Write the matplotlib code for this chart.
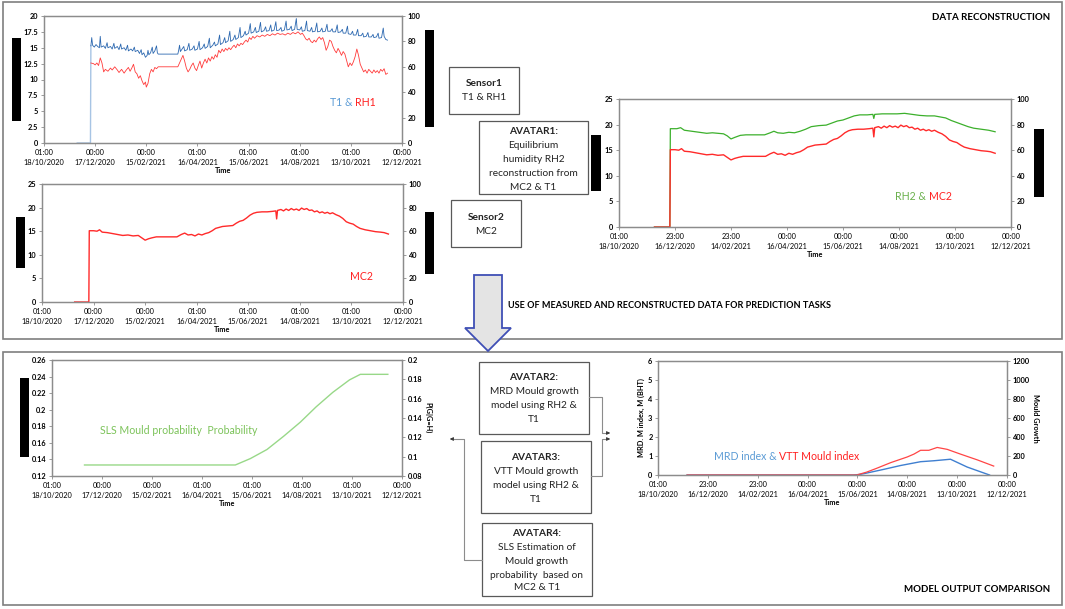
import matplotlib
matplotlib.use("Agg")
import matplotlib.pyplot as plt
from matplotlib.patches import Rectangle, Polygon

plt.rcParams['font.family'] = ['Lato', 'DejaVu Sans']

# ---- data (time axis in days since 18/10/2020 01:00) ----
day_ticks = [0, 60, 120, 180, 240, 300, 360, 420]
xlabels_a = ["01:00\n18/10/2020", "00:00\n17/12/2020", "00:00\n15/02/2021", "01:00\n16/04/2021",
             "01:00\n15/06/2021", "01:00\n14/08/2021", "01:00\n13/10/2021", "00:00\n12/12/2021"]
xlabels_b = ["01:00\n18/10/2020", "23:00\n16/12/2020", "23:00\n14/02/2021", "00:00\n16/04/2021",
             "00:00\n15/06/2021", "00:00\n14/08/2021", "00:00\n13/10/2021", "00:00\n12/12/2021"]

# Sensor1: T1 (blue) and RH1 (red), left-axis units
t1_lead_days = [39, 54.5, 55]
t1_lead_vals = [0, 0, 15.3]
t1_days = [55, 56, 57, 59, 61, 63, 65, 66, 67, 70, 72, 74, 75, 78, 80, 82, 83, 86, 88, 90, 91, 94, 96, 98, 99,
           102, 104, 106, 107, 110, 112, 114, 115, 117, 119, 121, 122, 123, 125, 127, 128, 130, 132, 133, 134,
           157, 158, 159, 160, 162, 164, 165, 168, 170, 171, 174, 176, 177, 180, 182, 183, 186, 188, 189, 192,
           194, 195, 198, 200, 201, 204, 206, 207, 210, 212, 213, 216, 218, 219, 222, 224, 225, 228, 230, 231,
           234, 236, 237, 240, 242, 243, 246, 248, 249, 252, 254, 255, 258, 260, 261, 264, 266, 267, 270, 272,
           273, 276, 278, 279, 282, 284, 285, 288, 290, 291, 294, 296, 297, 300, 302, 303, 306, 308, 309, 312,
           314, 315, 318, 320, 321, 324, 326, 327, 330, 332, 333, 336, 338, 339, 342, 344, 345, 348, 350, 351,
           354, 356, 357, 360, 362, 363, 366, 368, 369, 372, 374, 375, 378, 380, 381, 384, 386, 387, 390, 392,
           393, 396, 398, 399, 401, 403]
t1_vals = [15.3, 16.6, 15.4, 15.1, 15.5, 15.2, 15.0, 16.8, 15.1, 15.3, 14.9, 15.8, 15.0, 15.2, 14.8, 15.7, 14.9,
           15.2, 14.7, 15.6, 14.8, 15.0, 14.6, 15.4, 14.5, 14.8, 14.5, 15.1, 14.4, 14.6, 14.1, 14.7, 13.9, 14.2,
           13.5, 13.8, 14.6, 13.9, 14.2, 15.1, 14.1, 14.5, 15.3, 14.2, 14.0,
           14.0, 14.6, 15.4, 14.4, 14.8, 15.2, 14.5, 14.7, 15.7, 14.6, 14.8, 15.3, 14.6, 14.8, 16.0, 14.7, 15.0,
           15.6, 14.9, 15.2, 16.5, 15.0, 15.4, 15.9, 15.3, 15.6, 17.0, 15.5, 15.8, 16.6, 15.8, 16.1, 17.6, 16.0,
           16.3, 17.0, 16.3, 16.6, 18.2, 16.6, 16.9, 17.6, 17.0, 17.3, 18.8, 17.3, 17.5, 18.2, 17.4, 17.6, 19.0,
           17.5, 17.7, 18.3, 17.6, 17.7, 18.6, 17.6, 17.8, 19.1, 17.7, 17.8, 18.2, 17.6, 17.8, 19.2, 17.8, 17.9,
           18.4, 17.7, 17.9, 19.6, 17.9, 17.8, 18.3, 17.6, 17.7, 19.2, 17.7, 17.6, 18.2, 17.5, 17.6, 18.9, 17.5,
           17.6, 18.1, 17.5, 17.6, 18.7, 17.6, 17.6, 18.0, 17.5, 17.5, 18.6, 17.4, 17.5, 17.9, 17.3, 17.3, 18.4,
           17.2, 17.1, 17.6, 17.0, 17.0, 17.9, 16.9, 16.9, 17.3, 16.7, 16.8, 17.4, 16.7, 16.7, 17.1, 16.6, 16.7,
           17.3, 16.5, 16.6, 18.1, 16.8, 16.3, 16.2]
rh1_days = [55, 58, 60, 62, 64, 66, 68, 70, 72, 75, 78, 80, 83, 86, 88, 91, 94, 96, 99, 101, 103, 105, 107, 109,
            111, 113, 115, 117, 119, 120, 122, 124, 126, 128, 130, 132, 134, 157, 159, 161, 163, 165, 167, 169,
            171, 173, 175, 177, 179, 181, 183, 185, 187, 189, 191, 193, 195, 197, 199, 201, 203, 205, 207, 209,
            211, 213, 215, 217, 219, 221, 223, 225, 227, 229, 231, 233, 235, 237, 239, 241, 243, 245, 247, 250,
            253, 256, 259, 262, 265, 268, 271, 274, 277, 280, 283, 286, 289, 292, 295, 298, 301, 303, 305, 307,
            309, 311, 313, 315, 317, 319, 321, 323, 325, 327, 329, 331, 333, 335, 337, 339, 341, 343, 345, 347,
            349, 351, 353, 355, 357, 359, 361, 363, 365, 367, 369, 371, 373, 375, 377, 379, 381, 383, 385, 387,
            389, 391, 393, 395, 397, 399, 401, 403]
rh1_vals = [12.6, 12.5, 12.3, 12.6, 12.2, 13.4, 12.6, 11.2, 11.6, 11.3, 11.8, 11.5, 12.0, 11.5, 11.1, 11.6, 11.0,
            11.4, 11.9, 11.3, 11.8, 12.4, 11.2, 10.9, 10.2, 10.6, 9.8, 9.2, 9.6, 8.8, 9.4, 10.9, 11.6, 11.2, 11.9,
            11.7, 12.0, 12.0, 12.6, 13.2, 13.8, 12.9, 11.8, 11.2, 11.6, 12.2, 12.6, 11.8, 11.4, 12.2, 12.9, 11.8,
            12.6, 13.2, 12.6, 13.4, 12.9, 13.6, 13.2, 13.9, 13.5, 14.6, 14.2, 14.8, 14.4, 14.9, 14.6, 15.0, 14.7,
            15.1, 15.4, 15.0, 15.6, 15.3, 15.7, 15.5, 15.9, 16.2, 15.9, 16.6, 16.3, 16.8, 16.5, 16.9, 16.7, 17.0,
            16.8, 17.1, 16.9, 17.2, 17.0, 17.3, 17.1, 17.2, 17.0, 17.3, 17.1, 17.4, 17.2, 17.5, 17.1, 17.3, 16.9,
            16.4, 16.2, 16.5, 16.0, 15.8, 16.2, 15.9, 16.4, 16.7, 16.3, 16.6, 15.8, 14.6, 15.2, 16.2, 16.0, 15.2,
            14.6, 14.2, 14.9, 14.4, 13.8, 14.4, 14.0, 13.0, 12.0, 12.6, 12.2, 12.8, 13.6, 14.8, 13.8, 12.4, 11.8,
            11.2, 11.5, 11.0, 11.6, 11.3, 11.0, 11.5, 11.1, 11.4, 11.0, 11.6, 11.3, 11.7, 10.8, 11.0]

# Sensor2: MC2
mc2_days = [38, 54.5, 55, 60, 64, 67, 70, 76, 82, 88, 94, 100, 106, 112, 116, 120, 124, 128, 133, 140, 150, 157,
            162, 166, 170, 174, 178, 182, 186, 190, 194, 198, 202, 206, 210, 216, 222, 226, 230, 234, 238, 242,
            246, 250, 256, 262, 268, 272, 273, 274, 278, 281, 284, 287, 290, 293, 296, 299, 302, 305, 308, 311,
            314, 317, 320, 323, 326, 329, 332, 335, 338, 342, 346, 350, 354, 358, 362, 366, 370, 376, 382, 388,
            394, 398, 403]
mc2_vals = [0, 0, 15.1, 15.1, 15.0, 15.3, 14.8, 14.7, 14.5, 14.3, 14.1, 14.2, 14.0, 14.1, 13.6, 13.1, 13.4, 13.6,
            13.8, 13.8, 13.8, 13.8, 14.3, 14.6, 14.2, 14.3, 14.0, 14.4, 14.2, 14.5, 14.7, 15.1, 15.6, 15.8, 16.0,
            16.1, 16.2, 16.7, 17.1, 17.3, 17.8, 18.4, 18.8, 19.0, 19.1, 19.1, 19.2, 19.3, 17.6, 19.4, 19.6, 19.3,
            19.7, 19.4, 19.8, 19.5, 19.7, 19.4, 19.9, 19.6, 19.8, 19.4, 19.5, 19.1, 19.3, 18.9, 19.1, 18.8, 19.0,
            18.7, 18.9, 18.5, 18.2, 17.7, 17.0, 16.7, 16.5, 16.0, 15.6, 15.3, 15.1, 14.9, 14.8, 14.7, 14.4]

# AVATAR1: reconstructed RH2
rh2_days = [38, 54.5, 55, 62, 66, 70, 78, 86, 94, 100, 106, 112, 116, 120, 124, 130, 136, 146, 156, 162, 166, 170,
            176, 182, 188, 194, 200, 206, 214, 222, 228, 234, 240, 246, 252, 258, 266, 272, 273, 274, 282, 290,
            298, 306, 314, 322, 330, 338, 344, 350, 356, 362, 368, 374, 380, 388, 396, 403]
rh2_vals = [0, 0, 19.2, 19.2, 19.4, 18.9, 18.7, 18.5, 18.3, 18.4, 18.3, 18.2, 17.8, 17.2, 17.5, 17.9, 18.0, 18.0,
            18.0, 18.4, 18.7, 18.4, 18.3, 18.5, 18.4, 18.7, 19.1, 19.6, 19.8, 19.9, 20.3, 20.7, 20.9, 21.3, 21.7,
            21.9, 21.9, 22.0, 21.2, 22.0, 22.1, 22.1, 22.1, 22.2, 22.0, 21.8, 21.7, 21.7, 21.5, 21.3, 20.8, 20.4,
            20.0, 19.6, 19.3, 19.1, 18.9, 18.6]

# AVATAR4: SLS probability
sls_days = [39, 220, 238, 258, 278, 298, 317, 337, 357, 370, 403]
sls_vals = [0.1333, 0.1333, 0.141, 0.152, 0.168, 0.185, 0.2035, 0.221, 0.236, 0.2427, 0.2427]

# AVATAR2 / AVATAR3: mould indices
vtt_days = [35, 239, 251, 263, 280, 300, 308, 316, 326, 336, 348, 364, 384, 404]
vtt_vals = [0, 0, 0.15, 0.35, 0.65, 0.95, 1.1, 1.3, 1.3, 1.45, 1.35, 1.1, 0.8, 0.47]
mrd_days = [35, 235, 243, 251, 272, 292, 316, 332, 352, 372, 388, 399]
mrd_vals = [0, 0, 0.03, 0.1, 0.3, 0.5, 0.7, 0.75, 0.83, 0.42, 0.17, 0.0]

# tick labels
yl_20 = ["0", "2.5", "5", "7.5", "10", "12.5", "15", "17.5", "20"]
yl_25 = ["0", "5", "10", "15", "20", "25"]
yl_100 = ["0", "20", "40", "60", "80", "100"]
yl_sls = ["0.12", "0.14", "0.16", "0.18", "0.2", "0.22", "0.24", "0.26"]
yl_p = ["0.08", "0.1", "0.12", "0.14", "0.16", "0.18", "0.2"]
yl_6 = ["0", "1", "2", "3", "4", "5", "6"]
yl_1200 = ["0", "200", "400", "600", "800", "1000", "1200"]

# ---- figure ----
W, H = 1065, 609
fig = plt.figure(figsize=(W / 100, H / 100), dpi=100)

ov = fig.add_axes([0, 0, 1, 1])
ov.set_xlim(0, W)
ov.set_ylim(H, 0)
ov.axis('off')

GRID = '#8c8c8c'
TK = 5.3


def px_axes(x0, y0, x1, y1):
    a = fig.add_axes([x0 / W, 1 - y1 / H, (x1 - x0) / W, (y1 - y0) / H])
    a.patch.set_visible(False)
    return a


def setup(ax, ylim, yticks, ylabels, xlabels, rlim, rticks, rlabels):
    ax.set_xlim(0, 420)
    ax.set_xticks(day_ticks)
    ax.set_xticklabels(xlabels, fontsize=TK, linespacing=1.5)
    ax.set_ylim(*ylim)
    ax.set_yticks(yticks)
    ax.set_yticklabels(ylabels, fontsize=TK, fontweight='bold')
    ax.set_xlabel('Time', fontsize=TK, fontweight='bold', labelpad=1)
    axr = ax.twinx()
    axr.patch.set_visible(False)
    axr.set_ylim(*rlim)
    axr.set_yticks(rticks)
    axr.set_yticklabels(rlabels, fontsize=TK, fontweight='bold')
    for a in (ax, axr):
        for s in a.spines.values():
            s.set_color(GRID)
            s.set_linewidth(0.9)
        a.tick_params(length=2.5, width=0.6, color=GRID, pad=1.5)
    return axr


# panels and headings
ov.add_patch(Rectangle((3, 2), 1059, 337, fill=False, ec='#7f7f7f', lw=1.2))
ov.add_patch(Rectangle((3, 352), 1059, 253, fill=False, ec='#7f7f7f', lw=1.2))
ov.text(1050, 17, 'DATA RECONSTRUCTION', ha='right', va='center', fontsize=7.0, fontweight='bold')
ov.text(1050, 590, 'MODEL OUTPUT COMPARISON', ha='right', va='center', fontsize=7.0, fontweight='bold')
ov.text(508, 305, 'USE OF MEASURED AND RECONSTRUCTED DATA FOR PREDICTION TASKS', ha='left', va='center',
        fontsize=6.6, fontweight='bold')
ov.add_patch(Polygon([(474, 275), (502, 275), (502, 328), (511, 328), (488, 351), (465, 328), (474, 328)],
                     closed=True, fc='#e4e4e4', ec='#3f4fb5', lw=1.3, zorder=5))

# redaction bars
for x0, y0, x1, y1 in [(12, 38, 21, 121), (425, 30, 434, 127), (16, 217, 25, 268), (425, 212, 434, 274),
                       (591, 135, 601, 191), (1034, 129, 1044, 197), (20, 378, 29, 457)]:
    ov.add_patch(Rectangle((x0, y0), x1 - x0, y1 - y0, fc='black', ec='none'))


# text boxes
def text_box(x0, y0, x1, y1, lines, ys):
    ov.add_patch(Rectangle((x0, y0), x1 - x0, y1 - y0, fc='white', ec='#595959', lw=0.9))
    for i, (s, yy) in enumerate(zip(lines, ys)):
        ov.text((x0 + x1) / 2, yy, s, ha='center', va='center', fontsize=7.3,
                fontweight='bold' if (i == 0) else 'normal', color='#222222')


text_box(449, 67, 519, 114, ['Sensor1', 'T1 & RH1'], [84, 98])
text_box(479, 121, 588, 194, ['AVATAR1:', 'Equilibrium', 'humidity RH2', 'reconstruction from', 'MC2 & T1'],
         [131, 145, 159, 173, 187])
text_box(451, 200, 521, 247, ['Sensor2', 'MC2'], [217, 232])
text_box(479, 362, 589, 434, ['AVATAR2:', 'MRD Mould growth', 'model using RH2 &', 'T1'], [377, 391, 405, 419])
text_box(481, 441, 591, 513, ['AVATAR3:', 'VTT Mould growth', 'model using RH2 &', 'T1'], [457, 471, 485, 499])
text_box(482, 523, 592, 596, ['AVATAR4:', 'SLS Estimation of', 'Mould growth', 'probability  based on',
                              'MC2 & T1'], [533, 547, 561, 575, 588])

# connectors
CON = '#8c8c8c'
ov.plot([589, 602, 602, 606], [397, 397, 433, 433], color=CON, lw=0.8)
ov.plot([591, 602, 602, 606], [476, 476, 439, 439], color=CON, lw=0.8)
ov.plot([482, 464, 464, 454], [560, 560, 439, 439], color=CON, lw=0.8)
for xa, xb, yy in [(605, 613, 433), (605, 613, 439), (455, 447, 439)]:
    ov.annotate('', xy=(xb, yy), xytext=(xa, yy),
                arrowprops=dict(arrowstyle='-|>', color='#333333', lw=0.6, mutation_scale=5))

# chart 1: T1 & RH1
ax1 = px_axes(44, 16, 402, 143)
setup(ax1, (0, 20), [0, 2.5, 5, 7.5, 10, 12.5, 15, 17.5, 20], yl_20, xlabels_a, (0, 100),
      [0, 20, 40, 60, 80, 100], yl_100)
ax1.plot(t1_lead_days, t1_lead_vals, color='#a7c4e4', lw=1.0)
ax1.plot(rh1_days, rh1_vals, color='#ff3b3b', lw=0.6)
ax1.plot(t1_days, t1_vals, color='#2c68b0', lw=0.6)

# chart 2: MC2
ax2 = px_axes(42, 184, 403, 302)
setup(ax2, (0, 25), [0, 5, 10, 15, 20, 25], yl_25, xlabels_a, (0, 100), [0, 20, 40, 60, 80, 100], yl_100)
ax2.plot(mc2_days, mc2_vals, color='#ff2a2a', lw=1.0)

# chart 3: RH2 & MC2
ax3 = px_axes(619, 99, 1011, 227)
setup(ax3, (0, 25), [0, 5, 10, 15, 20, 25], yl_25, xlabels_b, (0, 100), [0, 20, 40, 60, 80, 100], yl_100)
ax3.plot(rh2_days, rh2_vals, color='#3cb02c', lw=0.9)
ax3.plot(mc2_days, mc2_vals, color='#ff2a2a', lw=1.0)

# chart 4: SLS probability
ax4 = px_axes(52, 360, 402, 476)
ax4r = setup(ax4, (0.12, 0.26), [0.12, 0.14, 0.16, 0.18, 0.20, 0.22, 0.24, 0.26], yl_sls, xlabels_a,
             (0.08, 0.2), [0.08, 0.10, 0.12, 0.14, 0.16, 0.18, 0.20], yl_p)
ax4r.set_ylabel('P(G|G=H)', fontsize=TK, fontweight='bold', rotation=270, labelpad=7)
ax4.plot(sls_days, sls_vals, color='#98d888', lw=1.0)

# chart 5: MRD & VTT
ax5 = px_axes(658, 361, 1007, 475)
ax5r = setup(ax5, (0, 6), [0, 1, 2, 3, 4, 5, 6], yl_6, xlabels_b, (0, 1200),
             [0, 200, 400, 600, 800, 1000, 1200], yl_1200)
ax5.set_ylabel('MRD. M index, M (BHT)', fontsize=TK, fontweight='bold', labelpad=2)
ax5r.set_ylabel('Mould Growth', fontsize=TK, fontweight='bold', rotation=270, labelpad=7)
ax5.plot(mrd_days, mrd_vals, color='#3f7fd0', lw=1.0)
ax5.plot(vtt_days, vtt_vals, color='#ff4545', lw=0.9)

# in-chart annotations, drawn on a top layer
top = fig.add_axes([0, 0, 1, 1])
top.set_xlim(0, W)
top.set_ylim(H, 0)
top.axis('off')
renderer = fig.canvas.get_renderer()


def color_text(x, y, parts, size=7.6):
    for s, c in parts:
        t = top.text(x, y, s, color=c, fontsize=size, ha='left', va='center')
        x += t.get_window_extent(renderer).width


color_text(330, 103, [('T1 & ', '#5b9bd5'), ('RH1', '#ff2020')])
color_text(350, 276, [('MC2', '#ff2020')])
color_text(895, 196, [('RH2 & ', '#6ab04c'), ('MC2', '#ff2020')])
color_text(100, 430, [('SLS Mould probability  Probability', '#7cc35a')])
color_text(714, 457, [('MRD index & ', '#5b9bd5'), ('VTT Mould index', '#ff2020')])

fig.savefig('out.png', dpi=100)
